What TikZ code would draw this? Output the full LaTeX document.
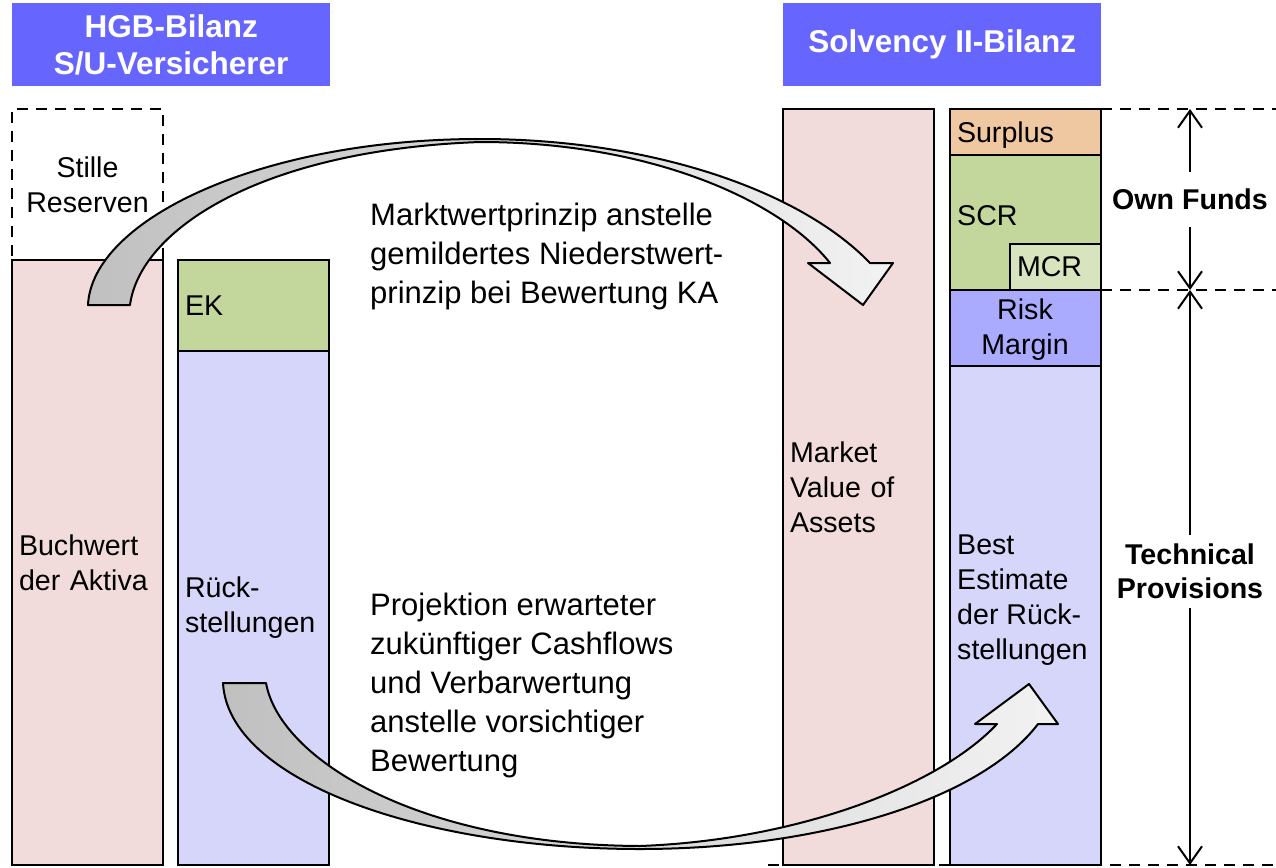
\documentclass[tikz,border=0pt]{standalone}
\usepackage{fontspec}
\setmainfont{Liberation Sans}
\usepackage{xcolor}
\usepackage{tikz}
\usetikzlibrary{arrows.meta,positioning}
\definecolor{titleblue}{HTML}{6666FF}
\definecolor{assetpink}{HTML}{F2DCDB}
\definecolor{ekgreen}{HTML}{C3D69B}
\definecolor{mcrgreen}{HTML}{D7E4BD}
\definecolor{provlilac}{HTML}{D6D6FA}
\definecolor{rmblue}{HTML}{AAAAFF}
\definecolor{surpeach}{HTML}{EFC7A0}
\definecolor{arrowdark}{HTML}{C0C0C0}
\definecolor{arrowlight}{HTML}{F2F2F2}
\tikzset{
    balbox/.style={draw, line width=2pt, anchor=north west, align=left,
    inner sep=7pt, outer sep=0pt, text width=137pt,
    font=\fontsize{28.6}{35}\selectfont},
    boxlabel/.style={anchor=west, align=left, inner sep=7pt,
    font=\fontsize{28.6}{35}\selectfont},
    titlebox/.style={fill=titleblue, text=white, anchor=north west, align=center,
    minimum width=318pt, minimum height=83pt, inner sep=0pt,
    font=\bfseries\fontsize{31.5}{37}\selectfont},
    note/.style={anchor=west, align=left, inner sep=0pt,
    font=\fontsize{31}{39}\selectfont},
    dimlabel/.style={fill=white, align=center, inner xsep=2pt,
    font=\bfseries\fontsize{28.6}{34}\selectfont},
    dashline/.style={line width=2pt, dash pattern=on 11pt off 8pt},
    dimline/.style={line width=2pt,
    {Straight Barb[length=17pt,width=24pt]}-{Straight Barb[length=17pt,width=24pt]}},
    bendarrow/.style={draw, line width=2pt, line join=round,
    left color=arrowdark, right color=arrowlight},
}

\begin{document}
\begin{tikzpicture}[x=1pt,y=-1pt]
            \useasboundingbox (0,0) rectangle (1276,867);
            % --- titles ---
            \node[titlebox] (hgb) at (12,3) {HGB-Bilanz\\S/U-Versicherer};
            \node[titlebox] (sii) at (783,3) {Solvency II-Bilanz};
            % --- HGB balance sheet ---
            \node[balbox, dashed, dash pattern=on 11pt off 8pt, align=center, minimum height=151pt] (sr) at (12,109) {Stille\\Reserven};
            \node[balbox, fill=assetpink, minimum height=605pt] (bw) at (12,260) {Buchwert\\der Aktiva};
            \node[balbox, fill=ekgreen, minimum height=91pt] (ek) at (178,260) {EK};
            \node[balbox, fill=provlilac, minimum height=514pt] (rs) at (178,351) {Rück-\\stellungen};
            % --- Solvency II balance sheet ---
            \node[balbox, fill=assetpink, minimum height=756pt] (mv) at (783,109) {Market\\Value of\\Assets};
            \node[balbox, fill=surpeach, text depth=0pt, minimum height=46pt] (sur) at (950,109) {Surplus};
            \node[balbox, fill=ekgreen, minimum height=135pt] (scr) at (950,155) {};
            \node[boxlabel] (scrlab) at (950,216) {SCR};
            \node[balbox, fill=mcrgreen, text width=77pt, minimum height=46pt] (mcr) at (1010,244) {MCR};
            \node[balbox, fill=rmblue, minimum height=76pt] (rm) at (950,290) {};
            \node[boxlabel, anchor=center, align=center] (rmlab) at (1025,330) {Risk\\Margin};
            \node[balbox, fill=provlilac, minimum height=499pt] (be) at (950,366) {};
            \node[boxlabel] (belab) at (950,600) {Best\\Estimate\\der Rück-\\stellungen};
            % --- dashed guide lines ---
            \coordinate (g1) at (1276,109);
            \coordinate (g2) at (1276,290);
            \coordinate (g3) at (1276,865);
            \coordinate (g0) at (768,865);
            \draw[dashline] (sur.north east) -- (g1);
            \draw[dashline] (rm.north east) -- (g2);
            \draw[dashline] (g0) -- (g3);
            % --- dimension arrows ---
            \coordinate (d1) at (1190,109);
            \coordinate (d2) at (1190,290);
            \coordinate (d3) at (1190,865);
            \draw[dimline] (d1) -- (d2) node[midway, dimlabel, inner ysep=17pt] (of) {Own Funds};
            \draw[dimline] (d2) -- (d3) node[pos=0.49, dimlabel, inner ysep=9pt] (tp) {Technical\\Provisions};
            % --- curved arrows ---
            \shadedraw[bendarrow] (88,305) .. controls (92,220) and (260,139) .. (480,139)
                .. controls (650,139) and (800,190) .. (870,263)
                -- (893,263) -- (863,305) -- (808,263) -- (830,263)
                .. controls (780,200) and (650,142) .. (480,142)
                .. controls (260,150) and (140,230) .. (130,305) -- cycle;
            \shadedraw[bendarrow] (223,683) .. controls (228,780) and (420,849) .. (640,849)
                .. controls (820,849) and (980,800) .. (1038,724)
                -- (1058,724) -- (1029,684) -- (975,724) -- (997,724)
                .. controls (940,785) and (800,840) .. (640,846)
                .. controls (420,845) and (280,760) .. (266,683) -- cycle;
            % --- explanations ---
            \node[note] (mkt) at (370,256) {Marktwertprinzip anstelle\\gemildertes Niederstwert-\\prinzip bei Bewertung KA};
            \node[note] (proj) at (370,685) {Projektion erwarteter\\zukünftiger Cashflows\\und Verbarwertung\\anstelle vorsichtiger\\Bewertung};
        \end{tikzpicture}
\end{document}
